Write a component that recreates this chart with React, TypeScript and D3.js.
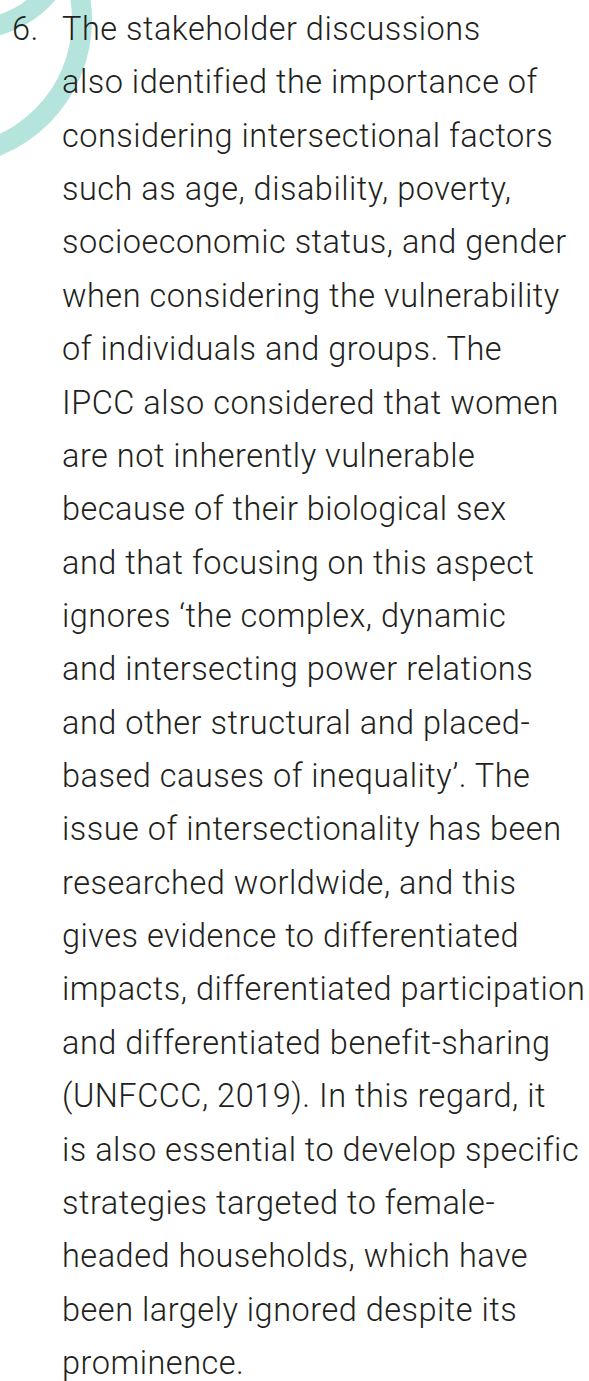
import React from "react";
import * as d3 from "d3";

const W = 589;
const H = 1381;

const itemNumber = "6.";
const lines: string[] = [
  "The stakeholder discussions",
  "also identified the importance of",
  "considering intersectional factors",
  "such as age, disability, poverty,",
  "socioeconomic status, and gender",
  "when considering the vulnerability",
  "of individuals and groups. The",
  "IPCC also considered that women",
  "are not inherently vulnerable",
  "because of their biological sex",
  "and that focusing on this aspect",
  "ignores \u2018the complex, dynamic",
  "and intersecting power relations",
  "and other structural and placed-",
  "based causes of inequality\u2019. The",
  "issue of intersectionality has been",
  "researched worldwide, and this",
  "gives evidence to differentiated",
  "impacts, differentiated participation",
  "and differentiated benefit-sharing",
  "(UNFCCC, 2019). In this regard, it",
  "is also essential to develop specific",
  "strategies targeted to female-",
  "headed households, which have",
  "been largely ignored despite its",
  "prominence.",
];

// decorative rings: [cx, cy, inner radius, outer radius]
const rings: [number, number, number, number][] = [
  [-54, 20, 126, 146],
  [-29, -72, 91, 111],
];

export default function App() {
  const y = d3.scaleLinear().domain([0, lines.length - 1]).range([40, 1374]);
  const arc = d3.arc<any>().startAngle(0).endAngle(2 * Math.PI);
  const font = "Roboto, 'Liberation Sans', Arial, sans-serif";
  const textProps = {
    fontFamily: font,
    fontWeight: 300,
    fontSize: 32.5,
    letterSpacing: 0.5,
    fill: "#231f20",
  };
  return (
    <svg
      width={W}
      height={H}
      style={{ position: "absolute", left: 0, top: 0, background: "#fff" }}
    >
      {rings.map(([cx, cy, r0, r1], i) => (
        <path
          key={i}
          transform={`translate(${cx},${cy})`}
          d={arc({ innerRadius: r0, outerRadius: r1 }) as string}
          fill="#b4e4dc"
        />
      ))}
      <text x={12} y={y(0)} {...textProps}>
        {itemNumber}
      </text>
      {lines.map((t, i) => (
        <text key={i} x={62} y={y(i)} {...textProps}>
          {t}
        </text>
      ))}
    </svg>
  );
}
